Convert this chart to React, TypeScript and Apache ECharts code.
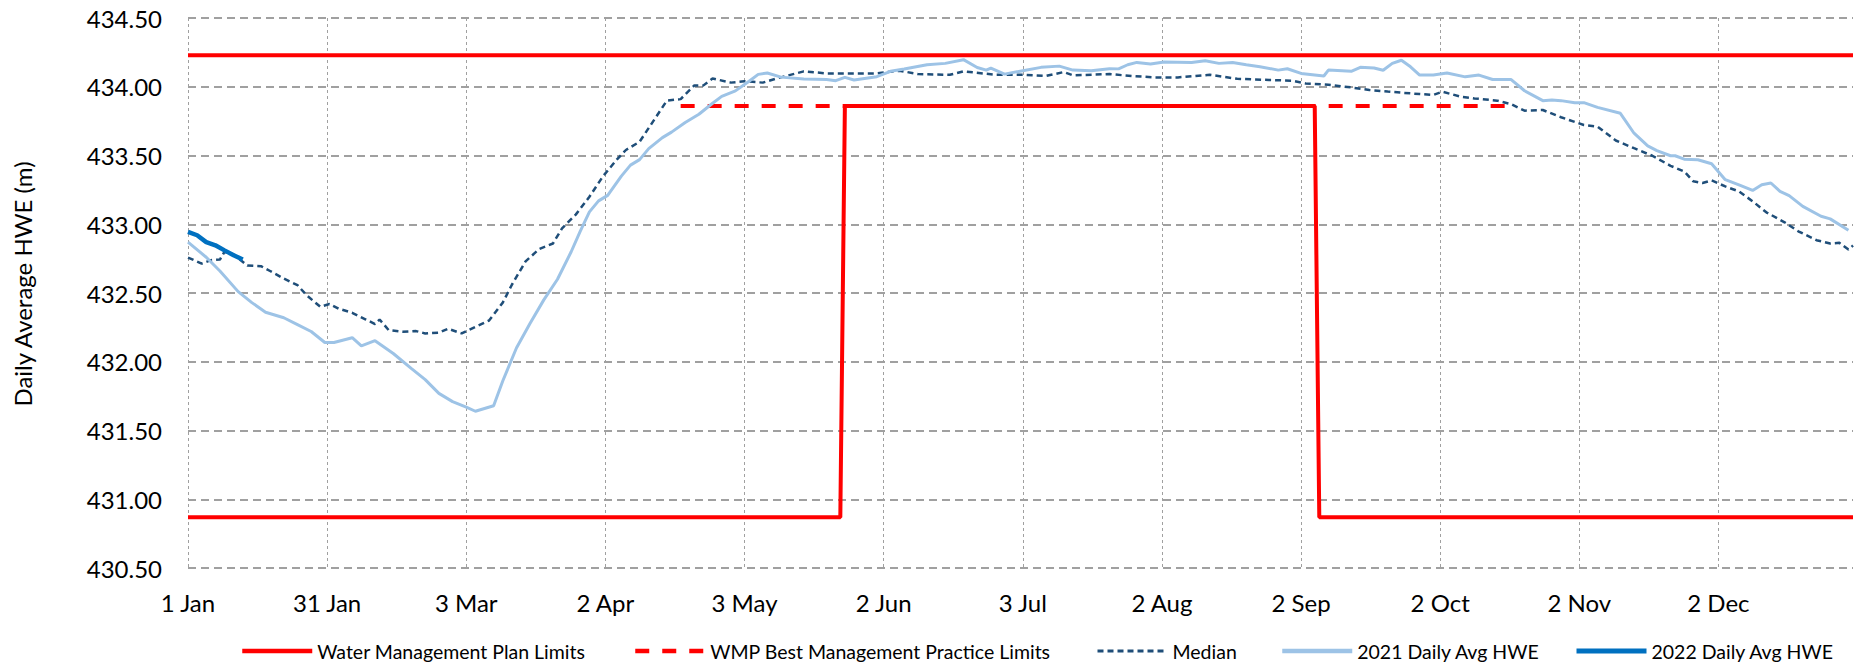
import React, { useEffect, useRef } from 'react';
import * as echarts from 'echarts';

const tickLabels = ['1 Jan', '31 Jan', '3 Mar', '2 Apr', '3 May', '2 Jun', '3 Jul', '2 Aug', '2 Sep', '2 Oct', '2 Nov', '2 Dec'];

const seriesNames = [
  'Water Management Plan Limits',
  'WMP Best Management Practice Limits',
  'Median',
  '2021 Daily Avg HWE',
  '2022 Daily Avg HWE',
];

const yAxisTitle = 'Daily Average HWE (m)';

const wmpUpperDays = [0, 365];
const wmpUpperValues = [434.23, 434.23];

const wmpLowerDays = [0, 143, 144, 247, 248, 365];
const wmpLowerValues = [430.87, 430.87, 433.86, 433.86, 430.87, 430.87];

const bmpDays = [108, 289];
const bmpValues = [433.86, 433.86];

const medianDays = [0, 3, 5, 7, 8, 10, 13, 16, 18, 21, 24, 26, 29, 31, 33, 36, 39, 41, 42, 44, 47, 50, 52, 55, 57, 60, 63, 66, 69, 71, 74, 77, 80, 82, 85, 88, 91, 94, 96, 99, 102, 105, 108, 111, 113, 115, 119, 122, 126, 129, 135, 140, 144, 151, 156, 160, 167, 170, 177, 183, 188, 192, 194, 202, 207, 212, 217, 224, 230, 237, 242, 245, 250, 255, 259, 263, 266, 270, 273, 275, 279, 282, 287, 290, 293, 297, 301, 306, 309, 313, 317, 321, 325, 328, 330, 332, 334, 337, 340, 343, 346, 350, 353, 357, 360, 362, 364, 365];
const medianValues = [432.758, 432.714, 432.739, 432.743, 432.8, 432.78, 432.7, 432.695, 432.66, 432.605, 432.557, 432.484, 432.4, 432.42, 432.387, 432.356, 432.307, 432.274, 432.307, 432.23, 432.218, 432.223, 432.206, 432.211, 432.24, 432.206, 432.254, 432.3, 432.43, 432.56, 432.73, 432.82, 432.86, 432.97, 433.07, 433.2, 433.35, 433.47, 433.54, 433.6, 433.75, 433.9, 433.91, 434.01, 434.01, 434.06, 434.03, 434.04, 434.03, 434.06, 434.112, 434.097, 434.097, 434.097, 434.117, 434.092, 434.087, 434.112, 434.087, 434.087, 434.078, 434.107, 434.083, 434.092, 434.078, 434.068, 434.068, 434.087, 434.058, 434.049, 434.044, 434.024, 434.015, 433.995, 433.976, 433.965, 433.957, 433.947, 433.94, 433.964, 433.928, 433.915, 433.899, 433.874, 433.826, 433.831, 433.778, 433.722, 433.71, 433.609, 433.553, 433.498, 433.425, 433.384, 433.312, 433.3, 433.319, 433.275, 433.239, 433.167, 433.087, 433.014, 432.949, 432.884, 432.86, 432.865, 432.816, 432.845];

const y2021Days = [0, 4, 7, 11, 14, 17, 21, 24, 27, 30, 32, 36, 38, 41, 45, 49, 52, 55, 58, 61, 63, 65, 67, 69, 72, 75, 78, 81, 84, 86, 88, 90, 92, 95, 97, 99, 101, 104, 106, 109, 112, 115, 117, 120, 123, 125, 127, 130, 135, 140, 142, 144, 146, 151, 154, 157, 162, 166, 170, 173, 175, 176, 179, 183, 187, 191, 194, 198, 202, 204, 206, 208, 211, 214, 220, 223, 226, 229, 232, 235, 239, 241, 244, 249, 250, 255, 257, 260, 262, 264, 266, 268, 270, 273, 276, 280, 283, 286, 290, 293, 297, 299, 301, 304, 306, 309, 314, 317, 320, 322, 325, 326, 328, 331, 334, 337, 340, 343, 345, 347, 349, 351, 354, 358, 360, 364];
const y2021Values = [432.87, 432.76, 432.66, 432.51, 432.43, 432.36, 432.32, 432.27, 432.22, 432.14, 432.14, 432.175, 432.115, 432.153, 432.06, 431.95, 431.87, 431.77, 431.71, 431.67, 431.64, 431.66, 431.68, 431.86, 432.1, 432.28, 432.45, 432.6, 432.8, 432.95, 433.09, 433.17, 433.21, 433.35, 433.43, 433.47, 433.55, 433.63, 433.67, 433.74, 433.8, 433.88, 433.93, 433.97, 434.04, 434.09, 434.1, 434.07, 434.056, 434.053, 434.044, 434.068, 434.049, 434.073, 434.112, 434.129, 434.16, 434.17, 434.197, 434.14, 434.121, 434.136, 434.092, 434.117, 434.141, 434.15, 434.121, 434.117, 434.131, 434.13, 434.16, 434.177, 434.165, 434.18, 434.177, 434.189, 434.17, 434.177, 434.16, 434.146, 434.121, 434.131, 434.097, 434.078, 434.121, 434.112, 434.141, 434.136, 434.12, 434.17, 434.193, 434.145, 434.085, 434.085, 434.1, 434.072, 434.085, 434.053, 434.053, 433.971, 433.899, 433.903, 433.899, 433.884, 433.884, 433.85, 433.807, 433.662, 433.57, 433.536, 433.498, 433.498, 433.473, 433.469, 433.44, 433.324, 433.287, 433.246, 433.287, 433.3, 433.239, 433.208, 433.13, 433.058, 433.039, 432.957];

const y2022Days = [0, 2, 4, 6, 8, 10, 12];
const y2022Values = [432.944, 432.92, 432.87, 432.847, 432.81, 432.775, 432.743];

const legendLefts = [235, 628, 1091, 1275, 1569];
const legendLineWidths = [4.5, 4.5, 3, 4.5, 5];

const zip = (d: number[], v: number[]) => d.map((x, i) => [x, v[i]]);

const FONT = 'Lato';

export default function App() {
  const ref = useRef<HTMLDivElement>(null);
  useEffect(() => {
    if (!ref.current) return;
    const chart = echarts.init(ref.current, undefined, { renderer: 'svg' });
    const lineBase = { type: 'line', symbol: 'none', showSymbol: false, silent: true };
    chart.setOption({
      animation: false,
      backgroundColor: '#ffffff',
      textStyle: { fontFamily: FONT, color: '#000' },
      grid: { left: 188, right: 9, top: 18, bottom: 95, containLabel: false },
      graphic: [
        {
          type: 'text',
          x: 22,
          y: 284,
          rotation: Math.PI / 2,
          style: {
            text: yAxisTitle,
            fontFamily: FONT,
            fontSize: 24,
            fill: '#000',
            textAlign: 'center',
            textVerticalAlign: 'middle',
          },
        },
      ],
      xAxis: {
        type: 'value',
        min: 0,
        max: 365,
        interval: 30.5,
        axisLine: { show: false },
        axisTick: { show: false },
        axisLabel: {
          fontFamily: FONT,
          fontSize: 24,
          color: '#000',
          margin: 22,
          showMaxLabel: false,
          formatter: (val: number) => {
            const i = Math.round(val / 30.5);
            return Math.abs(val - i * 30.5) < 1e-6 && i < tickLabels.length ? tickLabels[i] : '';
          },
        },
        splitLine: { show: true, showMaxLine: false, lineStyle: { color: '#a0a0a0', width: 1, type: [3, 3] } },
      },
      yAxis: {
        type: 'value',
        min: 430.5,
        max: 434.5,
        interval: 0.5,
        axisLine: { show: false },
        axisTick: { show: false },
        axisLabel: {
          fontFamily: FONT,
          fontSize: 24,
          color: '#000',
          margin: 26,
          formatter: (v: number) => v.toFixed(2),
        },
        splitLine: { show: true, lineStyle: { color: '#a0a0a0', width: 2, type: [8, 5] } },
      },
      legend: seriesNames.map((n, i) => ({
        data: [n],
        left: legendLefts[i],
        top: 636,
        itemWidth: 70,
        itemHeight: 14,
        itemStyle: { opacity: 0 },
        lineStyle: { width: legendLineWidths[i] },
        textStyle: { fontFamily: FONT, fontSize: 19.5, color: '#000' },
      })),
      series: [
        { ...lineBase, name: seriesNames[0], data: zip(wmpUpperDays, wmpUpperValues), lineStyle: { color: '#ff0000', width: 4 }, itemStyle: { color: '#ff0000' } },
        { ...lineBase, name: seriesNames[0], data: zip(wmpLowerDays, wmpLowerValues), lineStyle: { color: '#ff0000', width: 4 }, itemStyle: { color: '#ff0000' } },
        { ...lineBase, name: seriesNames[1], data: zip(bmpDays, bmpValues), lineStyle: { color: '#ff0000', width: 4, type: [14, 13] }, itemStyle: { color: '#ff0000' } },
        { ...lineBase, name: seriesNames[2], data: zip(medianDays, medianValues), lineStyle: { color: '#1f4e79', width: 2.5, type: [6, 4] }, itemStyle: { color: '#1f4e79' } },
        { ...lineBase, name: seriesNames[3], data: zip(y2021Days, y2021Values), lineStyle: { color: '#9dc3e6', width: 3 }, itemStyle: { color: '#9dc3e6' } },
        { ...lineBase, name: seriesNames[4], data: zip(y2022Days, y2022Values), lineStyle: { color: '#0070c0', width: 4.5 }, itemStyle: { color: '#0070c0' } },
      ],
    });
    return () => chart.dispose();
  }, []);
  return <div ref={ref} style={{ position: 'fixed', left: 0, top: 0, width: '1862px', height: '663px' }} />;
}
